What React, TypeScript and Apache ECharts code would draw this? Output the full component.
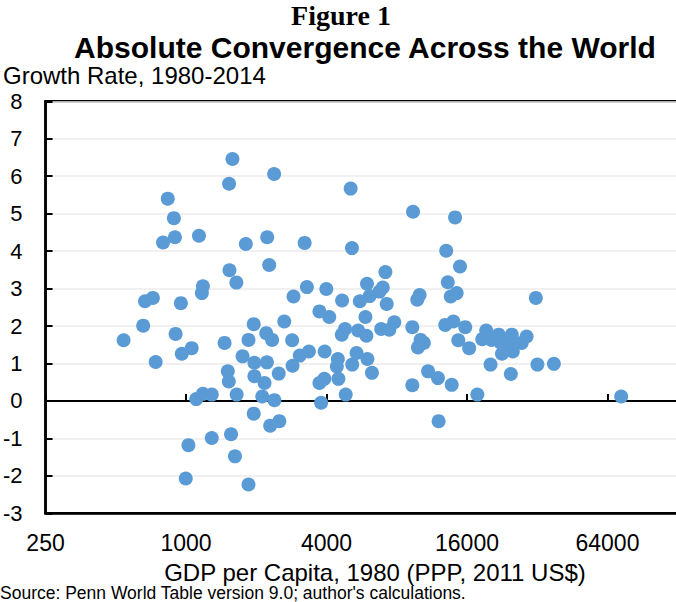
import React, { useEffect, useRef } from "react";
import * as echarts from "echarts";

// GDP per capita in 1980 (PPP, 2011 US$) for each country
const gdp1980: number[] = [
  1581, 1529, 835, 887, 797, 896, 1136, 1804, 1535, 1643,
  1181, 1169, 667, 721, 950, 655, 540, 902, 1057, 959,
  741, 1463, 1852, 1950, 1747, 1963, 1510, 1525, 1963, 1648,
  1106, 1181, 1289, 1950, 1559, 1289, 1024, 1621, 997, 1852,
  2385, 5076, 9393, 14226, 2228, 3224, 5141, 2272, 13032, 14932,
  7154, 13237, 5964, 6970, 6749, 3296, 3993, 2888, 4664, 5556,
  6123, 7246, 10025, 9793, 13630, 14450, 2636, 2206, 2339, 2849,
  3730, 4109, 5872, 4802, 4651, 5465, 5930, 6861, 7808, 7437,
  9328, 12908, 13990, 14685, 10122, 10452, 9860, 2221, 2861, 3071,
  3361, 3927, 4473, 4430, 5155, 5381, 5988, 6262, 2170, 2496,
  2122, 2392, 3730, 3915, 4499, 4835, 3792, 2294, 2511, 9328,
  10898, 12012, 13760, 12093, 31564, 15723, 16348, 17720, 73270, 19340,
  18602, 20382, 21880, 22246, 24900, 24117, 22595, 25150, 27450, 28810,
  20185, 24662, 32062, 37718,
];

// Growth rate of GDP per capita, 1980-2014 (percent per year)
const growthRate: number[] = [
  6.46, 5.8, 5.4, 4.88, 4.23, 4.37, 4.41, 4.19, 3.49, 3.16,
  3.06, 2.88, 2.66, 2.75, 2.61, 2.01, 1.62, 1.79, 1.41, 1.26,
  1.04, 1.55, 1.63, 2.05, 1.19, 1.02, 0.79, 0.52, 0.66, 0.17,
  0.05, 0.19, 0.17, -0.34, -0.89, -0.99, -1.18, -1.48, -2.07, -2.23,
  6.06, 5.67, 5.05, 4.9, 4.37, 4.22, 4.08, 3.63, 4.01, 3.59,
  3.44, 3.17, 3.13, 3.03, 2.92, 3.04, 2.99, 2.79, 2.68, 2.66,
  2.8, 2.59, 2.83, 2.7, 2.79, 2.88, 2.12, 1.81, 1.63, 1.62,
  2.39, 2.24, 2.24, 1.92, 1.77, 1.88, 1.74, 1.92, 2.1, 1.9,
  1.97, 2.03, 2.12, 1.62, 1.63, 1.55, 1.43, 1.03, 0.94, 1.21,
  1.32, 1.32, 1.12, 0.92, 0.97, 1.28, 1.12, 0.75, 0.48, 0.73,
  0.12, 0.02, 0.48, 0.59, 0.59, 0.17, -0.05, -0.66, -0.54, 0.42,
  0.79, 0.61, 0.43, -0.54, 2.75, 1.97, 1.41, 0.17, 0.12, 1.88,
  1.65, 1.63, 1.77, 1.56, 1.77, 1.56, 1.26, 1.32, 1.55, 1.72,
  0.97, 0.72, 0.97, 0.99,
];

const xTickLabels: string[] = ["250", "1000", "4000", "16000", "64000"];
const xBase = 250; // GDP at left edge of log axis
const yMin = -3;
const yMax = 8;

const SANS = "'Liberation Sans', Arial, sans-serif";
const SERIF = "'Liberation Serif', 'Times New Roman', serif";

const CHART_W = 710;

export default function App() {
  const ref = useRef<HTMLDivElement>(null);

  useEffect(() => {
    if (!ref.current) return;
    const chart = echarts.init(ref.current, undefined, { renderer: "svg" });
    const points = gdp1980.map((g, i) => [Math.log2(g / xBase), growthRate[i]]);

    chart.setOption({
      animation: false,
      backgroundColor: "#ffffff",
      grid: {
        left: 36,
        top: 101.3,
        bottom: 88.7,
        right: CHART_W - 677.7,
        show: true,
        borderColor: "#000",
        borderWidth: 2.5,
        backgroundColor: "transparent",
      },
      xAxis: [
        {
          type: "value",
          min: 0,
          max: 9,
          interval: 2,
          position: "bottom",
          axisLine: { onZero: false, lineStyle: { color: "#000", width: 2.5 } },
          axisTick: { show: false },
          splitLine: { show: false },
          axisLabel: {
            margin: 18,
            fontSize: 23,
            fontFamily: SANS,
            color: "#000",
            formatter: (v: number) => {
              const idx = Math.round(v / 2);
              return xTickLabels[idx] ?? "";
            },
          },
        },
        {
          type: "value",
          min: 0,
          max: 9,
          interval: 2,
          position: "bottom",
          axisLine: { onZero: true, lineStyle: { color: "#000", width: 2 } },
          axisTick: { show: true, inside: true, length: 7, lineStyle: { color: "#000", width: 2 } },
          axisLabel: { show: false },
          splitLine: { show: false },
        },
      ],
      yAxis: {
        type: "value",
        min: yMin,
        max: yMax,
        interval: 1,
        axisLine: { show: true, onZero: false, lineStyle: { color: "#000", width: 2.5 } },
        axisTick: { show: true, inside: true, length: 7, lineStyle: { color: "#000", width: 2 } },
        splitLine: { show: true, lineStyle: { color: "#ebebeb", width: 1.5 } },
        axisLabel: { margin: 23, fontSize: 22, fontFamily: SANS, color: "#000" },
      },
      graphic: [
        {
          type: "text",
          x: 341,
          y: 15,
          style: {
            text: "Figure 1",
            fontFamily: SERIF,
            fontWeight: "bold",
            fontSize: 28,
            fill: "#000",
            align: "center",
            verticalAlign: "middle",
          },
        },
        {
          type: "text",
          x: 365,
          y: 47,
          style: {
            text: "Absolute Convergence Across the World",
            fontFamily: SANS,
            fontWeight: "bold",
            fontSize: 30,
            fill: "#000",
            align: "center",
            verticalAlign: "middle",
          },
        },
        {
          type: "text",
          x: 3,
          y: 75,
          style: {
            text: "Growth Rate, 1980-2014",
            fontFamily: SANS,
            fontSize: 24,
            fill: "#000",
            align: "left",
            verticalAlign: "middle",
          },
        },
        {
          type: "text",
          x: 375,
          y: 572,
          style: {
            text: "GDP per Capita, 1980 (PPP, 2011 US$)",
            fontFamily: SANS,
            fontSize: 24,
            fill: "#000",
            align: "center",
            verticalAlign: "middle",
          },
        },
        {
          type: "text",
          x: 0,
          y: 593,
          style: {
            text: "Source: Penn World Table version 9.0; author's calculations.",
            fontFamily: SANS,
            fontSize: 17.5,
            fill: "#000",
            align: "left",
            verticalAlign: "middle",
          },
        },
      ],
      series: [
        {
          type: "scatter",
          xAxisIndex: 0,
          data: points,
          symbol: "circle",
          symbolSize: 14,
          itemStyle: { color: "#5B9BD5", opacity: 1 },
          z: 3,
        },
      ],
    });
    return () => chart.dispose();
  }, []);

  return (
    <div
      style={{
        position: "absolute",
        left: 0,
        top: 0,
        width: 676,
        height: 602,
        overflow: "hidden",
        background: "#fff",
      }}
    >
      <div ref={ref} style={{ width: CHART_W, height: 602 }} />
    </div>
  );
}
